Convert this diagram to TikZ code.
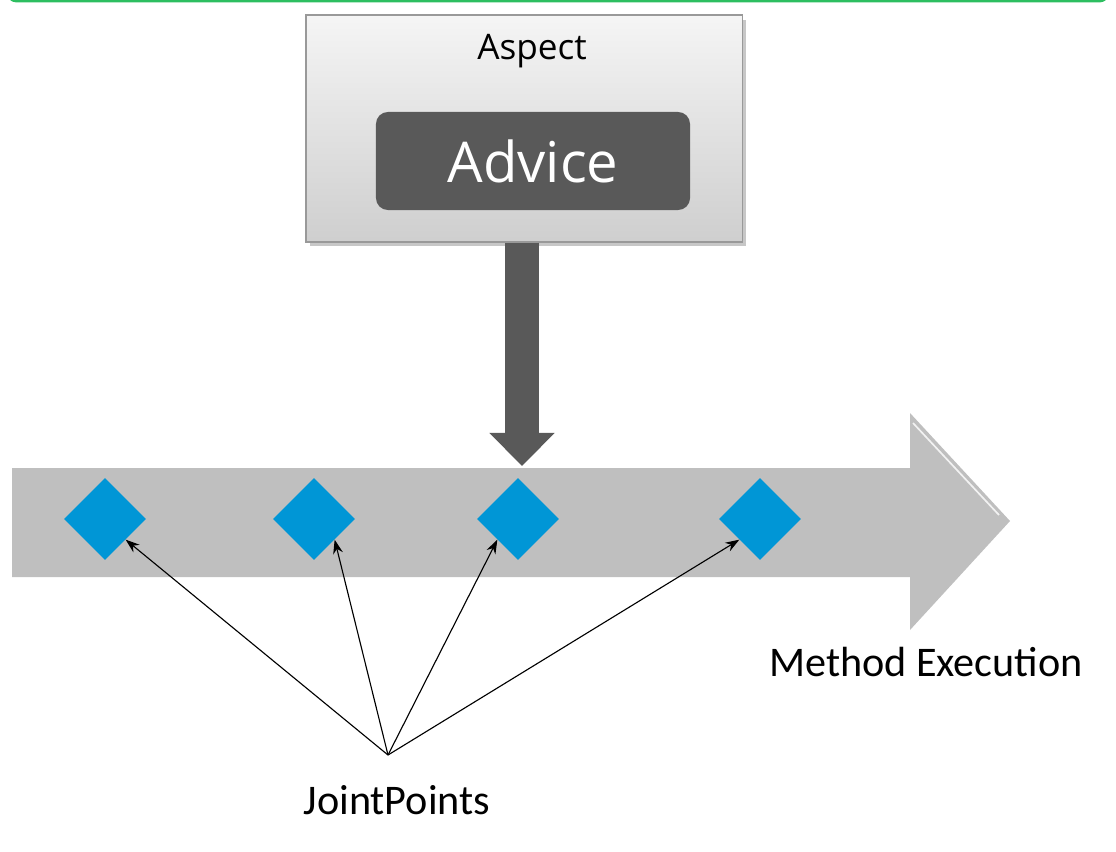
\documentclass[tikz,border=0pt]{standalone}
\usepackage{fontspec}
\setmainfont{Open Sans}
\newfontfamily\labelfont{Carlito}
\usetikzlibrary{arrows.meta, positioning, shapes.geometric}
\definecolor{advicegray}{HTML}{595959}
\definecolor{flowgray}{HTML}{BFBFBF}
\definecolor{jpblue}{HTML}{0096D6}
\definecolor{framegreen}{HTML}{2DBE60}

\begin{document}
\begin{tikzpicture}[x=0.025cm, y=-0.025cm, >={Stealth[length=10pt,width=7pt]}]
\tikzstyle{aspect box}=[draw=black!40, line width=0.8pt, top color=black!4, bottom color=black!19, minimum width=10.9cm, minimum height=5.675cm, inner sep=0]
\tikzstyle{advice box}=[fill=advicegray, text=white, rounded corners=0.3cm, minimum width=7.85cm, minimum height=2.45cm, font=\fontsize{40}{48}\selectfont]
\tikzstyle{joint point}=[diamond, fill=jpblue, minimum size=2.05cm, inner sep=0]
\tikzstyle{caption}=[font=\labelfont\fontsize{30}{36}\selectfont]
\tikzstyle{pointer}=[->, line width=0.8pt]

\useasboundingbox (0,0) rectangle (1116,851);

% green frame edge at the top
\draw[framegreen, line width=2pt, rounded corners=6] (8,-20) -- (8,1) -- (1108,1) -- (1108,-20);

% aspect with its advice
\fill[black!22] (310,20) rectangle (746,246);
\node[aspect box] (aspect) at (524,128.5) {};
\node[font=\fontsize{25}{30}\selectfont] (aspect label) at (532,51) {Aspect};
\node[advice box] (advice) at (533,161) {Advice};

% method execution flow
\fill[flowgray] (12,468) -- (910,468) -- (910,413) -- (1010,521) -- (910,630) -- (910,577) -- (12,577) -- cycle;
\draw[white, line width=1.2pt, opacity=.8] (913,423) -- (999,515);
\coordinate (flow top) at (522,466);

\draw[advicegray, line width=23.5pt, -{Triangle[length=23.5pt, width=45pt]}] (aspect.south -| flow top) -- (flow top);

\foreach \x [count=\i] in {105,314,518,760}
  \node[joint point] (jp\i) at (\x,519) {};

\coordinate (hub) at (388,755);
\draw[pointer] (hub) -- (jp1.south east);
\draw[pointer] (hub) -- (jp2.south east);
\draw[pointer] (hub) -- (jp3.south west);
\draw[pointer] (hub) -- (jp4.south west);

\node[caption] (joint label) at (397,800) {JointPoints};
\node[caption] (method label) at (926,662) {Method Execution};
\end{tikzpicture}
\end{document}
